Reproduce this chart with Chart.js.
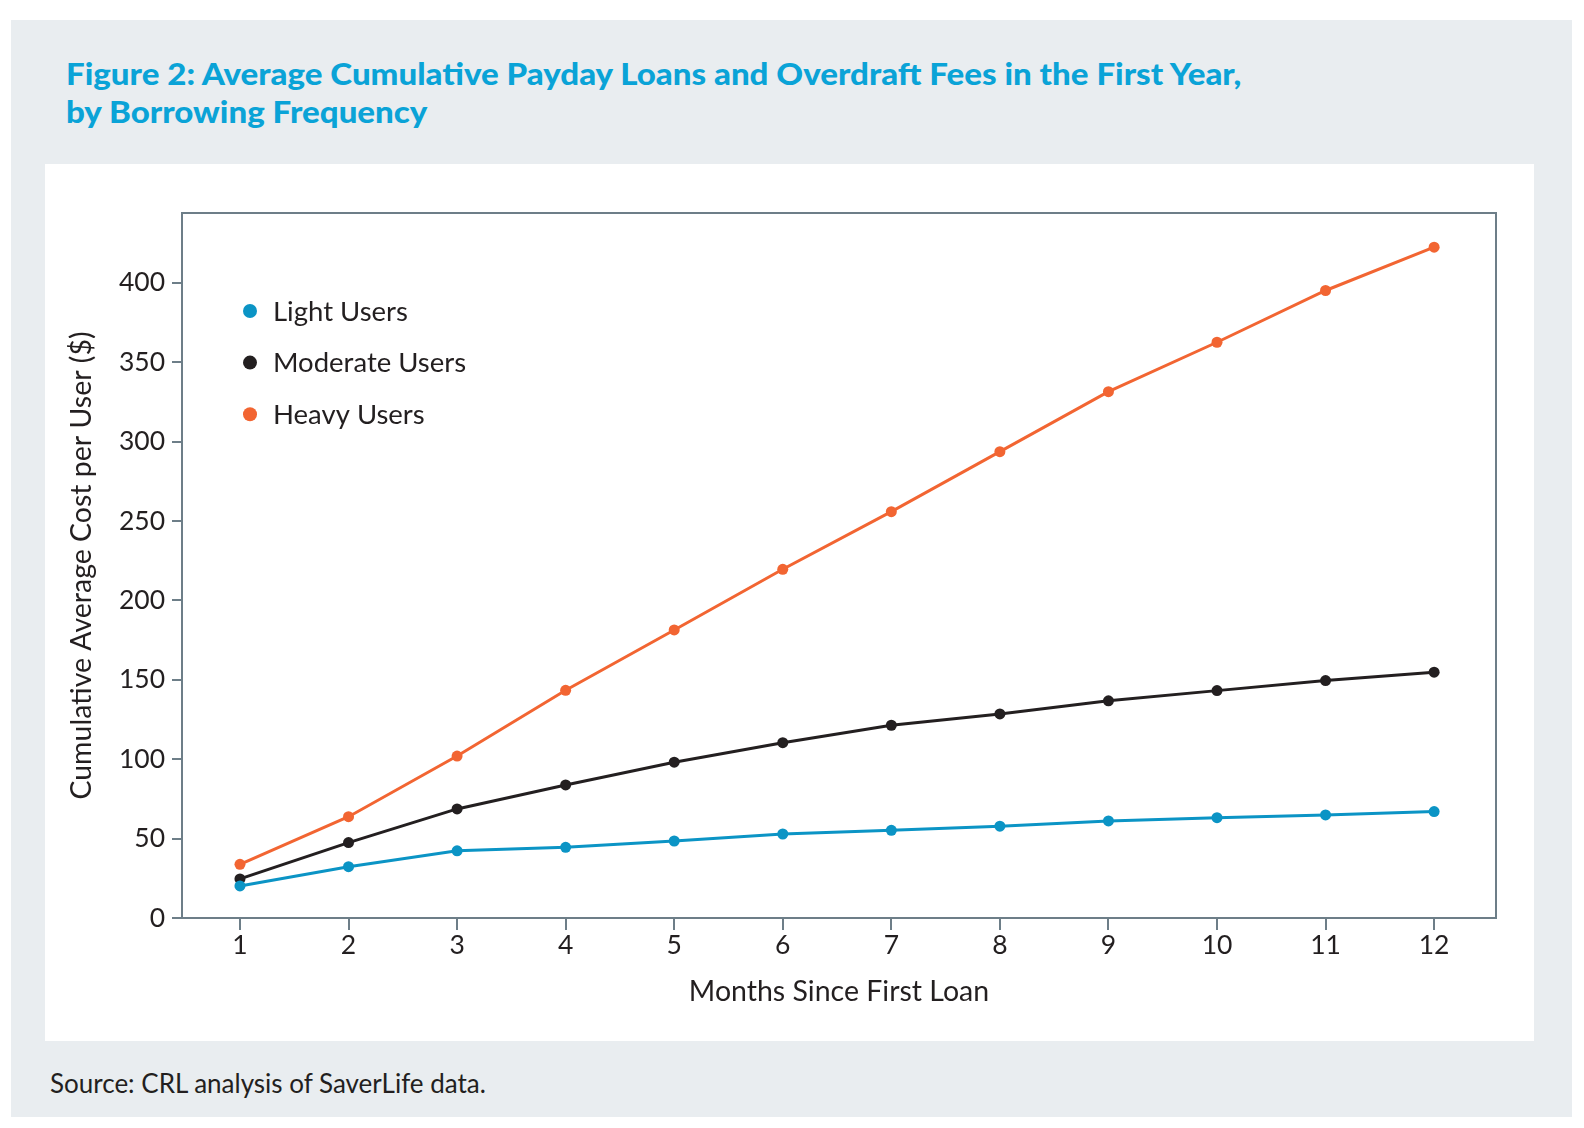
<!DOCTYPE html>
<html>
<head>
<meta charset="utf-8">
<script src="https://cdn.jsdelivr.net/npm/chart.js@4.4.1/dist/chart.umd.min.js"></script>
<style>
  html, body { margin: 0; padding: 0; background: #ffffff; }
  body { width: 1584px; height: 1128px; position: relative; overflow: hidden; font-family: Lato, "Open Sans", sans-serif; }
  #outer { position: absolute; left: 11px; top: 20px; width: 1561px; height: 1097px; background: #e9edf0; }
  #panel { position: absolute; left: 45px; top: 164px; width: 1489px; height: 877px; background: #ffffff; }
  #title { position: absolute; left: 66px; top: 54px; color: #0aa3d7; font-weight: 900; font-size: 31px; line-height: 38px; white-space: nowrap; }
  #title span { display: inline-block; transform-origin: 0 0; }
  #source { position: absolute; left: 50px; top: 1068px; color: #231f20; font-size: 26px; line-height: 30px; white-space: nowrap; }
  #chart { position: absolute; left: 0; top: 0; }
</style>
</head>
<body>
<div id="outer"></div>
<div id="panel"></div>
<div id="title"><span id="t1">Figure 2: Average Cumulative Payday Loans and Overdraft Fees in the First Year,</span><br><span id="t2">by Borrowing Frequency</span></div>
<div id="source">Source: CRL analysis of SaverLife data.</div>
<canvas id="chart" width="1584" height="1128"></canvas>
<script>
    // --- DATA ---
    const months = [1, 2, 3, 4, 5, 6, 7, 8, 9, 10, 11, 12];
    const lightUsers = [20.2, 32.3, 42.3, 44.5, 48.5, 52.9, 55.2, 57.8, 61.1, 63.2, 64.9, 67.0];
    const moderateUsers = [24.6, 47.5, 68.7, 83.8, 98.1, 110.4, 121.4, 128.5, 136.8, 143.2, 149.5, 154.8];
    const heavyUsers = [33.8, 63.8, 102.0, 143.4, 181.4, 219.6, 255.9, 293.7, 331.5, 362.6, 395.2, 422.5];
    const seriesNames = ['Light Users', 'Moderate Users', 'Heavy Users'];
    const seriesColors = ['#0b94c5', '#231f20', '#f26532'];
    const xTitle = 'Months Since First Loan';
    const yTitle = 'Cumulative Average Cost per User ($)';

    const AXIS_COLOR = '#6d7e88';
    const TEXT_COLOR = '#231f20';
    const FONT = 'Lato';

    // squeeze the title to the width of the condensed face in the original
    function fitTitle() {
        const t1 = document.getElementById('t1');
        const t2 = document.getElementById('t2');
        const scale = 1175 / t1.offsetWidth;
        t1.style.transform = `scaleX(${scale})`;
        t2.style.transform = `scaleX(${scale})`;
    }
    fitTitle();

    function toPoints(values) {
        return values.map((v, i) => ({ x: months[i], y: v }));
    }

    const framePlugin = {
        id: 'frame',
        beforeDatasetsDraw(chart) {
            const { ctx, chartArea: a } = chart;
            ctx.save();
            ctx.strokeStyle = AXIS_COLOR;
            ctx.lineWidth = 2;
            ctx.strokeRect(a.left, a.top, a.right - a.left, a.bottom - a.top);
            ctx.restore();
        }
    };

    const legendPlugin = {
        id: 'innerLegend',
        afterDraw(chart) {
            const ctx = chart.ctx;
            ctx.save();
            ctx.font = `27.5px ${FONT}`;
            ctx.textBaseline = 'alphabetic';
            ctx.textAlign = 'left';
            chart.data.datasets.forEach((ds, i) => {
                const y = 311 + i * 51.6;
                ctx.fillStyle = ds.borderColor;
                ctx.beginPath();
                ctx.arc(250, y, 7, 0, Math.PI * 2);
                ctx.fill();
                ctx.fillStyle = TEXT_COLOR;
                ctx.fillText(ds.label, 273, y + 9.8);
            });
            ctx.restore();
        }
    };

    const datasets = [lightUsers, moderateUsers, heavyUsers].map((values, i) => ({
        label: seriesNames[i],
        data: toPoints(values),
        borderColor: seriesColors[i],
        backgroundColor: seriesColors[i],
        pointBackgroundColor: seriesColors[i],
        borderWidth: 3,
        pointRadius: 5.5,
        pointBorderWidth: 0,
        tension: 0
    }));

    new Chart(document.getElementById('chart'), {
        type: 'line',
        data: { datasets },
        plugins: [framePlugin, legendPlugin],
        options: {
            responsive: false,
            animation: false,
            devicePixelRatio: 1,
            layout: { padding: { left: 60, right: 88, top: 213, bottom: 100 } },
            plugins: { legend: { display: false }, tooltip: { enabled: false } },
            scales: {
                x: {
                    type: 'linear',
                    min: 0.466,
                    max: 12.57,
                    afterFit(scale) { scale.height = 110; },
                    border: { display: false },
                    grid: { drawOnChartArea: false, drawTicks: true, tickLength: 12, color: AXIS_COLOR, lineWidth: 2 },
                    ticks: { stepSize: 1, includeBounds: false, autoSkip: false, maxRotation: 0, padding: 0, color: TEXT_COLOR, font: { family: FONT, size: 26.5 } },
                    title: { display: true, text: xTitle, color: TEXT_COLOR, font: { family: FONT, size: 28.5 }, padding: { top: 0, bottom: 19 } }
                },
                y: {
                    min: 0,
                    max: 444,
                    afterFit(scale) { scale.width = 122; },
                    border: { display: false },
                    grid: { drawOnChartArea: false, drawTicks: true, tickLength: 10, color: AXIS_COLOR, lineWidth: 2 },
                    ticks: { stepSize: 50, includeBounds: false, padding: 7, color: TEXT_COLOR, font: { family: FONT, size: 26.5 } },
                    title: { display: true, text: yTitle, color: TEXT_COLOR, font: { family: FONT, size: 28.5 }, padding: { top: 5, bottom: 0 } }
                }
            }
        }
    });
</script>
</body>
</html>
